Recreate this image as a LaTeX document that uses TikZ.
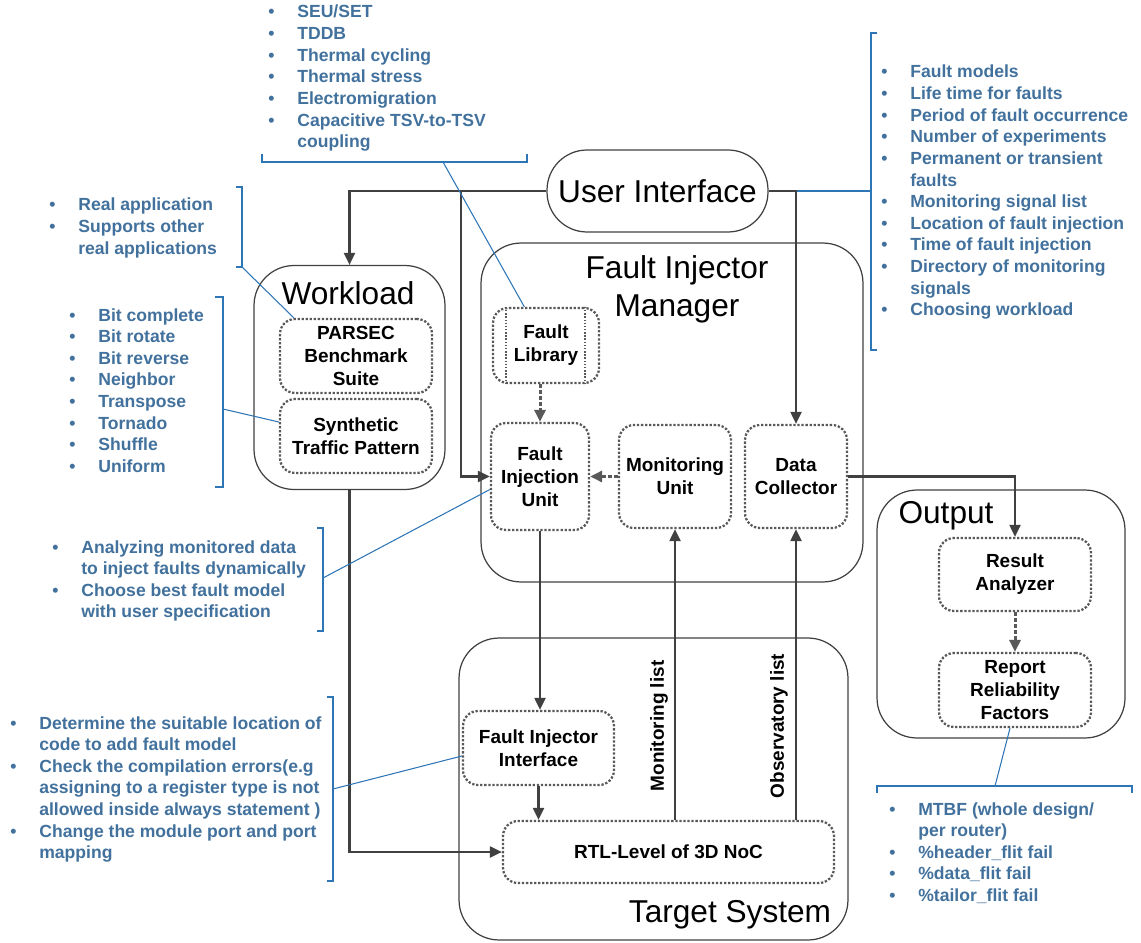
\documentclass[tikz,border=0pt]{standalone}
\usepackage{fontspec}
\setmainfont{Liberation Sans}
\usetikzlibrary{calc,arrows.meta}

\definecolor{linegray}{HTML}{404040}
\definecolor{boxgray}{HTML}{595959}
\definecolor{notetext}{HTML}{41719C}
\definecolor{noteblue}{HTML}{2E75B6}

\newenvironment{notelist}{\begin{tabular}[t]{@{}p{0.58cm}@{}l@{}}}{\end{tabular}}

\tikzset{
  container/.style={draw=linegray, line width=0.7pt, rounded corners=0.8cm, inner sep=0},
  title/.style={font=\fontsize{18}{21.5}\selectfont, align=center, inner sep=0},
  unit/.style={draw=boxgray, line width=1.3pt, densely dotted, rounded corners=0.3cm,
    align=center, font=\fontsize{10.8}{13}\selectfont\bfseries, inner sep=0},
  conn/.style={draw=linegray, line width=1.2pt, -{Triangle[length=2.4mm,width=2.2mm]}},
  dconn/.style={conn, draw=boxgray, line width=1.7pt, dash pattern=on 2pt off 1.4pt},
  noteline/.style={draw=noteblue, line width=0.6pt},
  notes/.style={anchor=base west, inner sep=0, text=notetext,
    font=\fontsize{10}{12.3}\selectfont\bfseries},
  sidelabel/.style={rotate=90, inner sep=0, font=\fontsize{10.8}{13}\selectfont\bfseries},
}

\begin{document}
\begin{tikzpicture}[x=0.02cm, y=-0.02cm]
  \useasboundingbox (0,0) rectangle (1141,942);

  % Containers
  \node[container, minimum width=3.82cm, minimum height=4.48cm] (wl)   at (349.5,377.5) {};
  \node[container, minimum width=7.64cm, minimum height=6.78cm] (fim)  at (672,412.5) {};
  \node[container, minimum width=4.96cm, minimum height=4.96cm] (outp) at (1001,614) {};
  \node[container, minimum width=7.78cm, minimum height=6.04cm] (ts)   at (653.5,789) {};
  \node[container, rounded corners=0.8cm, minimum width=4.42cm, minimum height=1.64cm,
        font=\fontsize{18}{21.5}\selectfont] (ui) at (657.5,191) {User Interface};

  % Container titles
  \node[title] (wltitle)  at (348,293) {Workload};
  \node[title] (fimtitle) at (677,289) {Fault Injector\\Manager};
  \node[title] (outtitle) at (946,516) {Output};
  \node[title] (tstitle)  at (730,915) {Target System};

  % Units
  \node[unit, minimum width=3.04cm, minimum height=1.48cm] (parsec) at (356,356) {PARSEC\\Benchmark\\Suite};
  \node[unit, minimum width=3.04cm, minimum height=1.48cm] (synth)  at (356,436) {Synthetic\\Traffic Pattern};
  \node[unit, minimum width=2.12cm, minimum height=1.50cm] (flib)   at (546,345.5) {Fault\\Library};
  \draw[boxgray, line width=0.8pt, densely dotted] ($(flib.north west)+(14,0)$) -- ($(flib.south west)+(14,0)$);
  \draw[boxgray, line width=0.8pt, densely dotted] ($(flib.north east)+(-15,0)$) -- ($(flib.south east)+(-15,0)$);
  \node[unit, minimum width=1.96cm, minimum height=2.14cm] (fiu) at (540,476.5) {Fault\\Injection\\Unit};
  \node[unit, minimum width=2.24cm, minimum height=2.06cm] (mon) at (675,476.5) {Monitoring\\Unit};
  \node[unit, minimum width=2.04cm, minimum height=2.06cm] (dc)  at (796,476.5) {Data\\Collector};
  \node[unit, minimum width=3.04cm, minimum height=1.46cm] (ra)  at (1015,574.5) {Result\\Analyzer};
  \node[unit, minimum width=3.04cm, minimum height=1.48cm] (rrf) at (1015,690) {Report\\Reliability\\Factors};
  \node[unit, minimum width=3.02cm, minimum height=1.48cm] (fii) at (538.5,748) {Fault Injector\\Interface};
  \node[unit, minimum width=6.62cm, minimum height=1.24cm] (rtl) at (668.5,852) {RTL-Level of 3D NoC};

  % Side labels
  \node[sidelabel] (monlbl) at (659,726) {Monitoring list};
  \node[sidelabel] (obslbl) at (779,726) {Observatory list};

  % Blue note line from UI (under the connector)
  \coordinate (uibrk) at (871,191);
  \draw[noteline] (ui.east) -- (uibrk);

  % Connectors
  \coordinate (uisplit) at (461,191);
  \draw[conn] (ui.west) -| (wl.north);
  \draw[conn] (uisplit) |- (fiu.west);
  \draw[conn] (ui.east) -| (dc.north);
  \draw[conn] (dc.east) -| (ra.north);
  \draw[dconn] (ra.south) -- (rrf.north);
  \draw[dconn] (fiu.north |- flib.south) -- (fiu.north);
  \draw[dconn] (mon.west) -- (fiu.east);
  \draw[conn] (fiu.south) -- (fiu.south |- fii.north);
  \draw[conn] (fii.south) -- (fii.south |- rtl.north);
  \draw[conn] (wl.south) |- (rtl.west);
  \draw[conn] (rtl.north -| mon.south) -- (mon.south);
  \draw[conn] (rtl.north -| dc.south) -- (dc.south);

  % Notes: fault types
  \node[notes] (faulttypes) at (268,18) {\begin{notelist}
    \textbullet & SEU/SET\\
    \textbullet & TDDB\\
    \textbullet & Thermal cycling\\
    \textbullet & Thermal stress\\
    \textbullet & Electromigration\\
    \textbullet & Capacitive TSV-to-TSV\\
                & coupling
  \end{notelist}};
  \coordinate (ftbrk) at (443,162);
  \draw[noteline] (262,154) -- (262,162) -- (527,162) -- (527,154);
  \draw[noteline] (ftbrk) -- ($(flib.north west)!0.3!(flib.north east)$);

  % Notes: user settings
  \node[notes] (settings) at (881,78) {\begin{notelist}
    \textbullet & Fault models\\
    \textbullet & Life time for faults\\
    \textbullet & Period of fault occurrence\\
    \textbullet & Number of experiments\\
    \textbullet & Permanent or transient\\
                & faults\\
    \textbullet & Monitoring signal list\\
    \textbullet & Location of fault injection\\
    \textbullet & Time of fault injection\\
    \textbullet & Directory of monitoring\\
                & signals\\
    \textbullet & Choosing workload
  \end{notelist}};
  \draw[noteline] (877,33) -- (871,33) -- (871,350) -- (877,350);

  % Notes: real applications
  \node[notes] (realapp) at (49,211) {\begin{notelist}
    \textbullet & Real application\\
    \textbullet & Supports other\\
                & real applications
  \end{notelist}};
  \coordinate (rabrk) at (242,267);
  \draw[noteline] (236,187) -- (242,187) -- (242,267) -- (236,267);
  \draw[noteline] (rabrk) -- ($(parsec.north west)+(15,0)$);

  % Notes: traffic patterns
  \node[notes] (patterns) at (69,321) {\begin{notelist}
    \textbullet & Bit complete\\
    \textbullet & Bit rotate\\
    \textbullet & Bit reverse\\
    \textbullet & Neighbor\\
    \textbullet & Transpose\\
    \textbullet & Tornado\\
    \textbullet & Shuffle\\
    \textbullet & Uniform
  \end{notelist}};
  \coordinate (tpbrk) at (223,409);
  \draw[noteline] (215,297) -- (223,297) -- (223,487) -- (215,487);
  \draw[noteline] (tpbrk) -- ($(synth.west)+(0,-14)$);

  % Notes: injection unit
  \node[notes] (dynamic) at (52,553) {\begin{notelist}
    \textbullet & Analyzing monitored data\\
                & to inject faults dynamically\\
    \textbullet & Choose best fault model\\
                & with user specification
  \end{notelist}};
  \coordinate (dybrk) at (323,578);
  \draw[noteline] (317,528) -- (323,528) -- (323,631) -- (317,631);
  \draw[noteline] (dybrk) -- ($(fiu.west)+(0,13)$);

  % Notes: injector interface
  \node[notes] (interface) at (10,729) {\begin{notelist}
    \textbullet & Determine the suitable location of\\
                & code to add fault model\\
    \textbullet & Check the compilation errors(e.g\\
                & assigning to a register type is not\\
                & allowed inside always statement )\\
    \textbullet & Change the module port and port\\
                & mapping
  \end{notelist}};
  \coordinate (ifbrk) at (333,789);
  \draw[noteline] (327,697) -- (333,697) -- (333,881) -- (327,881);
  \draw[noteline] (ifbrk) -- ($(fii.west)+(0,8)$);

  % Notes: reliability factors
  \node[notes] (factors) at (889,815) {\begin{notelist}
    \textbullet & MTBF (whole design/\\
                & per router)\\
    \textbullet & \%header\_flit fail\\
    \textbullet & \%data\_flit fail\\
    \textbullet & \%tailor\_flit fail
  \end{notelist}};
  \coordinate (rfbrk) at (995,786);
  \draw[noteline] (877,793) -- (877,786) -- (1132,786) -- (1132,793);
  \draw[noteline] (rfbrk) -- ($(rrf.south)+(-5,0)$);
\end{tikzpicture}
\end{document}
